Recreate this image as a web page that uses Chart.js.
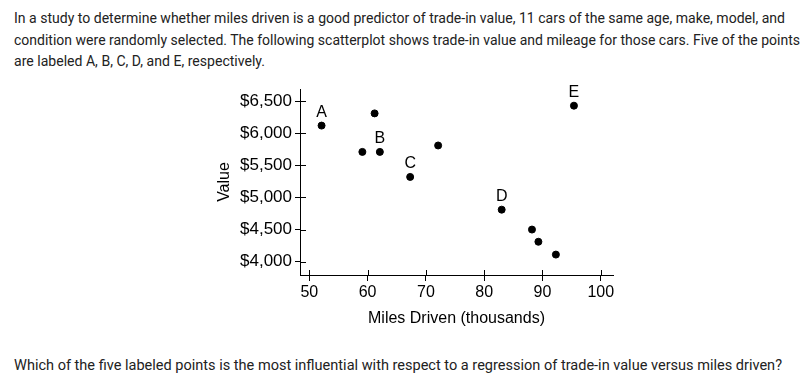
<!DOCTYPE html>
<html>
<head>
<meta charset="utf-8">
<script src="https://cdn.jsdelivr.net/npm/chart.js@4.4.1/dist/chart.umd.min.js"></script>
<style>
  html, body { margin: 0; padding: 0; background: #fff; }
  body { width: 806px; height: 385px; position: relative; overflow: hidden; }
  .txt {
    position: absolute; left: 14px; white-space: nowrap;
    font-family: Roboto, "Noto Sans", sans-serif; font-size: 15px; color: #222;
    transform-origin: 0 50%; line-height: 20px;
  }
  #chartWrap { position: absolute; left: 0; top: 0; width: 806px; height: 385px; }
</style>
</head>
<body>
<div class="txt" data-w="771" style="top:8px">In a study to determine whether miles driven is a good predictor of trade-in value, 11 cars of the same age, make, model, and</div>
<div class="txt" data-w="786" style="top:30px">condition were randomly selected. The following scatterplot shows trade-in value and mileage for those cars. Five of the points</div>
<div class="txt" data-w="251" style="top:51px">are labeled A, B, C, D, and E, respectively.</div>
<div class="txt" data-w="768" style="top:355px">Which of the five labeled points is the most influential with respect to a regression of trade-in value versus miles driven?</div>
<div id="chartWrap"><canvas id="myChart" width="806" height="385"></canvas></div>
<script>
// squeeze the paragraph lines to the condensed widths in the picture
document.querySelectorAll('.txt').forEach(function (el) {
  var w = el.getBoundingClientRect().width;
  el.style.transform = 'scaleX(' + (parseFloat(el.dataset.w) / w) + ')';
});

var miles = [52.1, 61.2, 59.1, 62.1, 72.1, 67.3, 83.0, 88.2, 89.3, 92.3, 95.4];
var values = [6120, 6310, 5710, 5710, 5810, 5320, 4810, 4500, 4310, 4110, 6430];
var pointNames = ["A", "", "", "B", "", "C", "D", "", "", "", "E"];
var xTicks = [50, 60, 70, 80, 90, 100];
var yTicks = [4000, 4500, 5000, 5500, 6000, 6500];

var points = miles.map(function (m, i) { return { x: m, y: values[i] }; });

// tick marks that cross the axis line, plus the point letters
var extras = {
  id: "extras",
  afterDraw: function (chart) {
    var ctx = chart.ctx;
    var xs = chart.scales.x, ys = chart.scales.y;
    var area = chart.chartArea;
    ctx.save();
    ctx.strokeStyle = "#000";
    ctx.lineWidth = 1;
    ctx.beginPath();
    xTicks.forEach(function (v) {
      var px = Math.round(xs.getPixelForValue(v)) + 0.5;
      ctx.moveTo(px, area.bottom);
      ctx.lineTo(px, area.bottom - 5);
    });
    yTicks.forEach(function (v) {
      var py = Math.round(ys.getPixelForValue(v)) + 0.5;
      ctx.moveTo(area.left, py);
      ctx.lineTo(area.left + 6, py);
    });
    ctx.stroke();

    var meta = chart.getDatasetMeta(0);
    ctx.fillStyle = "#000";
    ctx.font = "16px 'Liberation Sans', Arial, sans-serif";
    ctx.textAlign = "center";
    ctx.textBaseline = "bottom";
    meta.data.forEach(function (el, i) {
      if (pointNames[i]) ctx.fillText(pointNames[i], el.x, el.y - 5);
    });
    ctx.restore();
  }
};

new Chart("myChart", {
  type: "scatter",
  data: {
    datasets: [{
      data: points,
      backgroundColor: "#000",
      borderColor: "#000",
      pointRadius: 3.5,
      pointHoverRadius: 3.5
    }]
  },
  options: {
    responsive: false,
    animation: false,
    events: [],
    layout: { padding: { left: 200, right: 193, top: 89, bottom: 50 } },
    plugins: { legend: { display: false }, tooltip: { enabled: false } },
    scales: {
      x: {
        type: "linear",
        min: 48.4,
        max: 102.1,
        afterBuildTicks: function (s) { s.ticks = xTicks.map(function (v) { return { value: v }; }); },
        afterFit: function (s) { s.height = 60; },
        grid: { display: true, drawOnChartArea: false, drawTicks: true, tickLength: 6, color: "#000" },
        border: { display: true, color: "#000", width: 1 },
        ticks: {
          color: "#000", padding: 2, maxRotation: 0,
          font: { family: "'Liberation Sans', Arial, sans-serif", size: 16 }
        },
        title: {
          display: true, text: "Miles Driven (thousands)", color: "#000",
          font: { family: "'Liberation Sans', Arial, sans-serif", size: 16 },
          padding: { top: 4, bottom: 7 }
        }
      },
      y: {
        type: "linear",
        min: 3792,
        max: 6690,
        afterBuildTicks: function (s) { s.ticks = yTicks.map(function (v) { return { value: v }; }); },
        afterFit: function (s) { s.width = 100; },
        grid: { display: true, drawOnChartArea: false, drawTicks: true, tickLength: 5, color: "#000" },
        border: { display: true, color: "#000", width: 1 },
        ticks: {
          color: "#000", padding: 3,
          font: { family: "'Liberation Sans', Arial, sans-serif", size: 17 },
          callback: function (v) { return "$" + v.toLocaleString("en-US"); }
        },
        title: {
          display: true, text: "Value", color: "#000",
          font: { family: "'Liberation Sans', Arial, sans-serif", size: 16 },
          padding: { top: 15, bottom: 4 }
        }
      }
    }
  },
  plugins: [extras]
});
</script>
</body>
</html>
